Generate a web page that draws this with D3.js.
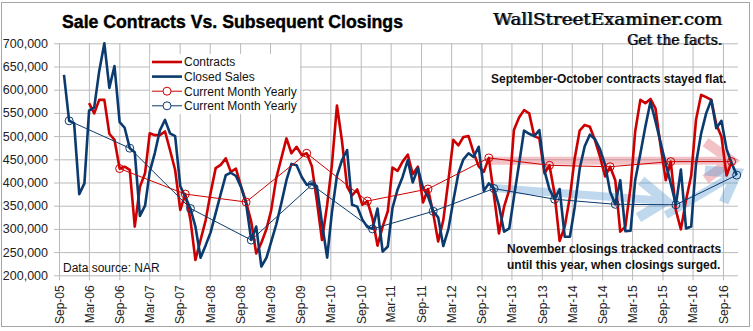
<!DOCTYPE html>
<html>
<head>
<meta charset="utf-8">
<script src="https://cdn.jsdelivr.net/npm/d3@7"></script>
<style>
  body { margin: 0; background: #fff; }
  svg { display: block; font-family: "Liberation Sans", Arial, sans-serif; }
</style>
</head>
<body>
<svg id="chart" width="753" height="331"></svg>
<script>
// values in thousands of homes, one per month
const closedStart = '2005-10';
const closedSales = [
  632, 533, 528,
  375, 398, 555, 562, 640, 700, 604, 651, 530, 518, 474, 465,
  328, 350, 423, 464, 512, 535, 506, 500, 392, 369, 344, 305,
  238, 265, 292, 334, 375, 416, 421, 414, 390, 355, 276, 305,
  219, 238, 272, 310, 355, 405, 440, 437, 412, 395, 398, 392,
  312, 238, 334, 415, 448, 470, 352, 348, 320, 304, 300, 344,
  251, 262, 345, 385, 412, 448, 400, 431, 388, 370, 338, 325,
  263, 300, 360, 420, 450, 463, 455, 477, 382, 398, 387, 350,
  294, 301, 368, 440, 512, 505, 500, 513, 425, 385, 364, 386,
  283, 283, 345, 430, 478, 503, 494, 472, 438, 380, 353, 405,
  295, 296, 405, 462, 520, 574, 532, 486, 440, 398, 352, 428,
  301, 305, 441, 506, 549, 578, 517, 533, 472, 442, 416
];

const contractStart = '2006-03';
const contracts = [
  571, 549, 578, 578, 505, 492, 430, 434, 427, 305,
  391, 420, 506, 502, 502, 510, 470, 427, 341, 375, 320, 233,
  276, 319, 377, 431, 438, 452, 423, 430, 391, 358, 316, 247,
  270, 300, 340, 410, 452, 495, 463, 477, 459, 463, 435, 360,
  276, 352, 436, 566, 490, 391, 372, 385, 352, 360, 322, 264,
  305, 338, 432, 425, 445, 460, 418, 434, 357, 386, 334, 273,
  319, 405, 492, 480, 498, 500, 465, 435, 423, 453, 372, 290,
  348, 384, 513, 540, 556, 549, 500, 495, 420, 437, 375, 274,
  305, 369, 450, 512, 524, 520, 492, 456, 413, 434, 405, 294,
  305, 390, 510, 578, 571, 580, 560, 478, 405, 445, 340, 299,
  362, 415, 535, 589, 584, 578, 525, 499, 415, 445
];

// "Current Month Yearly" points
const contractYearMonths = ['2006-09', '2007-10', '2008-10', '2009-10', '2010-10', '2011-10',
  '2012-10', '2013-10', '2014-10', '2015-10', '2016-10'];
const contractYearly = [430, 375, 358, 463, 360, 386, 453, 437, 434, 445, 445];

const closedYearMonths = ['2005-11', '2006-11', '2007-11', '2008-11', '2009-11', '2010-11',
  '2011-11', '2012-11', '2013-11', '2014-11', '2015-11', '2016-11'];
const closedYearly = [533, 474, 344, 276, 395, 300, 338, 387, 364, 353, 352, 416];

const xTickLabels = ['Sep-05', 'Mar-06', 'Sep-06', 'Mar-07', 'Sep-07', 'Mar-08', 'Sep-08', 'Mar-09',
  'Sep-09', 'Mar-10', 'Sep-10', 'Mar-11', 'Sep-11', 'Mar-12', 'Sep-12', 'Mar-13', 'Sep-13',
  'Mar-14', 'Sep-14', 'Mar-15', 'Sep-15', 'Mar-16', 'Sep-16'];
const yTicks = [200, 250, 300, 350, 400, 450, 500, 550, 600, 650, 700];

// translucent arrows: [month, value] from -> tip
const pinkArrows = [[['2012-10', 447], ['2016-10', 447]]];
const blueArrows = [[['2012-11', 388], ['2015-09', 360]], [['2015-09', 330], ['2016-11', 420]]];

const RED = '#cc0000', NAVY = '#0a3a6e';

const parseMonth = d3.timeParse('%Y-%m');
const monthLabel = d3.timeFormat('%b-%y');
const svg = d3.select('#chart');
const plotL = 59, plotR = 738, plotT = 43.3, plotB = 275.3;
const xDomain = [new Date(2005, 8, 1), new Date(2016, 11, 1)];

// axis scale (gridlines) and data scale; the source plots points a touch wider
const x = d3.scaleTime().domain(xDomain).range([plotL, plotR]);
const xd = d3.scaleTime().domain(xDomain).range([plotL, plotR + 3.7]);
const y = d3.scaleLinear().domain([200, 700]).range([plotB, plotT]);

function series(start, values) {
  const d0 = parseMonth(start);
  return values.map((v, i) => ({ date: d3.timeMonth.offset(d0, i), value: v }));
}
const closedData = series(closedStart, closedSales);
const contractData = series(contractStart, contracts);
const contractYearData = contractYearMonths.map((m, i) => ({ date: parseMonth(m), value: contractYearly[i] }));
const closedYearData = closedYearMonths.map((m, i) => ({ date: parseMonth(m), value: closedYearly[i] }));

// frame
svg.append('rect').attr('x', 1.5).attr('y', 2.5).attr('width', 748).attr('height', 324)
  .attr('fill', '#fff').attr('stroke', '#a6a6a6');

// y grid + labels
const yAxis = svg.append('g')
  .attr('transform', `translate(${plotL - 5},0)`)
  .call(d3.axisLeft(y).tickValues(yTicks).tickSize(-(plotR - plotL + 5)).tickPadding(6)
    .tickFormat(d => d3.format(',')(d * 1000)));
yAxis.select('.domain').remove();
yAxis.selectAll('line').attr('stroke', '#bababa');
yAxis.selectAll('text').attr('fill', '#222').style('font-size', '12.5px');

// x grid + labels
const xTickDates = xTickLabels.map(s => d3.timeParse('%b-%y')(s));
const xAxis = svg.append('g')
  .attr('transform', `translate(0,${plotB + 5})`)
  .call(d3.axisBottom(x).tickValues(xTickDates).tickSize(-(plotB + 5 - plotT)).tickFormat(monthLabel));
xAxis.select('.domain').remove();
xAxis.selectAll('line').attr('stroke', '#bababa');
xAxis.selectAll('text')
  .attr('transform', 'rotate(-90)')
  .attr('x', -5).attr('y', 0).attr('dy', '0.36em')
  .style('text-anchor', 'end').style('font-size', '12px').attr('fill', '#222');

// fat translucent arrows (under the lines)
function drawArrows(list, color) {
  const g = svg.append('g').attr('opacity', 0.38);
  list.forEach(([a, b]) => {
    const x0 = xd(parseMonth(a[0])), y0 = y(a[1]);
    const x1 = xd(parseMonth(b[0])), y1 = y(b[1]);
    const ang = Math.atan2(y1 - y0, x1 - x0);
    const len = 32;
    const arm = s => [x1 - len * Math.cos(ang + s * 0.62), y1 - len * Math.sin(ang + s * 0.62)];
    g.append('path').attr('d', d3.line()([[x0, y0], [x1 - 4 * Math.cos(ang), y1 - 4 * Math.sin(ang)]]))
      .attr('stroke', color).attr('stroke-width', 8).attr('fill', 'none');
    g.append('path').attr('d', d3.line()([arm(1), [x1, y1], arm(-1)]))
      .attr('stroke', color).attr('stroke-width', 10).attr('fill', 'none')
      .attr('stroke-linejoin', 'miter');
  });
}
drawArrows(pinkArrows, '#e0606e');
drawArrows(blueArrows, '#5b9bd5');

// series
const line = d3.line().x(d => xd(d.date)).y(d => y(d.value));
svg.append('path').datum(contractData).attr('d', line)
  .attr('fill', 'none').attr('stroke', RED).attr('stroke-width', 2.6).attr('stroke-linejoin', 'round');
svg.append('path').datum(closedData).attr('d', line)
  .attr('fill', 'none').attr('stroke', NAVY).attr('stroke-width', 2.6).attr('stroke-linejoin', 'round');

function yearly(data, color) {
  svg.append('path').datum(data).attr('d', line)
    .attr('fill', 'none').attr('stroke', color).attr('stroke-width', 1);
  svg.append('g').selectAll('circle').data(data).join('circle')
    .attr('cx', d => xd(d.date)).attr('cy', d => y(d.value)).attr('r', 4)
    .attr('fill', 'none').attr('stroke', color).attr('stroke-width', 1);
}
yearly(contractYearData, RED);
yearly(closedYearData, NAVY);

// legend
const legendItems = [
  { label: 'Contracts', color: RED, thick: true },
  { label: 'Closed Sales', color: NAVY, thick: true },
  { label: 'Current Month Yearly', color: RED, thick: false },
  { label: 'Current Month Yearly', color: NAVY, thick: false }
];
const lg = svg.append('g');
lg.append('rect').attr('x', 150).attr('y', 54).attr('width', 150).attr('height', 60).attr('fill', '#fff');
legendItems.forEach((d, i) => {
  const ly = 62 + i * 14.6;
  lg.append('line').attr('x1', 152).attr('x2', 182).attr('y1', ly).attr('y2', ly)
    .attr('stroke', d.color).attr('stroke-width', d.thick ? 2.6 : 1);
  if (!d.thick) {
    lg.append('circle').attr('cx', 167).attr('cy', ly).attr('r', 4)
      .attr('fill', '#fff').attr('stroke', d.color);
  }
  lg.append('text').attr('x', 184).attr('y', ly).attr('dy', '0.36em')
    .style('font-size', '12px').attr('fill', '#111').text(d.label);
});

// titles and notes
svg.append('text').attr('x', 62).attr('y', 28).text('Sale Contracts Vs. Subsequent Closings')
  .attr('textLength', 341).attr('lengthAdjust', 'spacingAndGlyphs')
  .style('font-size', '18px').style('font-weight', 'bold').attr('fill', '#000')
  .attr('stroke', '#000').attr('stroke-width', 0.4);

// watermark, double-struck like the original
const wm = svg.append('g').style('font-family', '"DejaVu Serif", "Liberation Serif", serif');
[['#666', 1.2], ['#000', 0]].forEach(([c, dx]) => {
  wm.append('text').attr('x', 493 + dx).attr('y', 25).attr('textLength', 229)
    .attr('lengthAdjust', 'spacingAndGlyphs').style('font-size', '17px').attr('fill', c)
    .text('WallStreetExaminer.com');
  wm.append('text').attr('x', 627 + dx).attr('y', 45).attr('textLength', 95)
    .attr('lengthAdjust', 'spacingAndGlyphs').style('font-size', '14px').attr('fill', c)
    .text('Get the facts.');
});

const notes = [
  { text: 'September-October contracts stayed flat.', x: 491, y: 83 },
  { text: 'November closings tracked contracts', x: 507, y: 253 },
  { text: 'until this year, when closings surged.', x: 507, y: 269 }
];
svg.append('g').selectAll('text').data(notes).join('text')
  .attr('x', d => d.x).attr('y', d => d.y).text(d => d.text)
  .style('font-size', '12px').style('font-weight', 'bold').attr('fill', '#111');

svg.append('text').attr('x', 63).attr('y', 272).text('Data source: NAR')
  .style('font-size', '12px').attr('fill', '#111');
</script>
</body>
</html>
